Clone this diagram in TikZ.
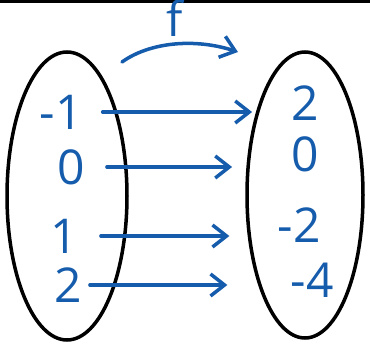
\documentclass[tikz,border=0pt]{standalone}
\usepackage{fontspec}
\setmainfont{Open Sans}
\usetikzlibrary{arrows.meta,shapes.geometric,calc}
\definecolor{ink}{RGB}{22,92,172}

\begin{document}
\begin{tikzpicture}[x=1pt,y=-1pt,
  setbox/.style={draw=black,ellipse,line width=3.5pt,inner sep=0pt},
  elem/.style={text=ink,font=\fontsize{48}{52}\selectfont,inner sep=1pt},
  map/.style={draw=ink,line width=3.5pt,line cap=round,
    -{Straight Barb[length=14pt,width=22pt]}}
]
\useasboundingbox (0,0) rectangle (370,348);
\draw[line width=3pt] (0,1.5) -- (370,1.5);

\node[setbox,minimum width=120pt,minimum height=288pt] (dom) at (67,196) {};
\node[setbox,minimum width=116pt,minimum height=286pt] (cod) at (305,195) {};

\node[elem] (am1) at (61,112) {-1};
\node[elem] (a0) at (71,167) {0};
\node[elem] (a1) at (64,236) {1};
\node[elem] (a2) at (68,285) {2};

\node[elem] (b2) at (305,103) {2};
\node[elem] (b0) at (305,154) {0};
\node[elem] (bm2) at (299,225) {-2};
\node[elem] (bm4) at (312,280) {-4};

\draw[map,shorten <=19pt,shorten >=38pt] (am1.east) -- (am1.east -| b2.west);
\draw[map,shorten <=21pt,shorten >=58pt] (a0.east) -- (a0.east -| b0.west);
\draw[map,shorten <=22pt,shorten >=47pt] (a1.east) -- (a1.east -| bm2.west);
\draw[map,shorten <=7pt,shorten >=62pt] (a2.east) -- (a2.east -| bm4.west);

\node[elem] (fn) at (175,18) {f};
\coordinate (ftail) at (122,62);
\coordinate (fhead) at (238,52);
\draw[map] (ftail) .. controls (150,42) and (195,38) .. (fhead);
\end{tikzpicture}
\end{document}
